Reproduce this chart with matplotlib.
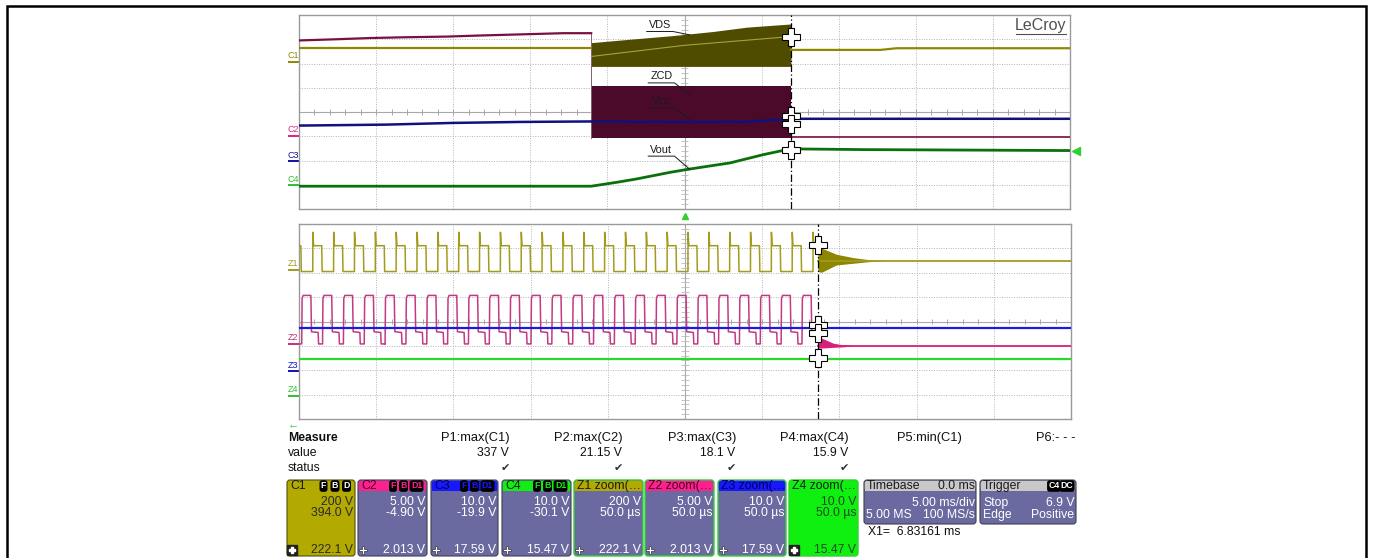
import matplotlib.pyplot as plt
import numpy as np
from matplotlib.patches import FancyBboxPatch, Rectangle

plt.rcParams['font.family'] = ['Liberation Sans', 'DejaVu Sans']

W, H = 1373, 558

# ---------------- upper window (5 ms/div), time and level in divisions ----------------
c1_pre_t = [0.0, 3.79]
c1_pre_v = [2.63, 2.63]
vds_t = [3.79, 4.29, 4.81, 4.94, 5.37, 5.81, 6.38]
vds_top = [2.86, 3.00, 3.14, 3.18, 3.32, 3.50, 3.63]
vds_bot = [1.88, 1.88, 1.88, 1.88, 1.88, 1.88, 1.88]
vds_mid_t = [3.79, 5.00, 6.38]
vds_mid_v = [2.29, 2.75, 3.11]
c1_post_t = [6.38, 7.54, 7.75, 10.0]
c1_post_v = [2.56, 2.56, 2.63, 2.63]

c2_pre_t = [0.0, 0.49, 0.92, 1.35, 1.92, 2.30, 3.43, 3.79]
c2_pre_v = [2.95, 3.00, 3.05, 3.08, 3.11, 3.15, 3.25, 3.25]
zcd_t = [3.79, 6.38]
zcd_top = [1.08, 1.08]
zcd_bot = [-1.07, -1.07]
c2_post_t = [6.38, 10.0]
c2_post_v = [-1.03, -1.03]

c3_t = [0.0, 1.14, 2.00, 2.87, 3.77, 5.07, 5.81, 6.24, 6.38, 10.0]
c3_v = [-0.56, -0.52, -0.45, -0.41, -0.39, -0.41, -0.40, -0.32, -0.28, -0.28]

c4_t = [0.0, 3.79, 4.12, 4.38, 4.81, 5.03, 5.59, 6.02, 6.33, 6.38, 7.30, 10.0]
c4_v = [-3.06, -3.06, -2.90, -2.76, -2.49, -2.37, -2.10, -1.76, -1.55, -1.52, -1.55, -1.59]

upper_cursor = 6.38
upper_cross_v = [3.11, -0.15, -0.50, -1.55]

# ---------------- lower window (zoom, 50 us/div) ----------------
z_period = 0.270
z_first = 0.035
z_cycles = 25
z1_phase = [0.0, 0.53, 0.535, 0.57, 0.96, 0.98, 1.0]
z1_level = [2.05, 2.05, 3.66, 3.11, 3.11, 2.05, 2.05]
z2_phase = [0.0, 0.02, 0.07, 0.44, 0.47, 0.79, 0.81, 1.0]
z2_level = [-0.92, 0.95, 1.07, 1.07, -0.42, -0.45, -0.92, -0.92]

z1_ring_t = [6.72, 6.77, 6.96, 7.18, 7.40, 7.55]
z1_ring_hi = [3.05, 3.01, 2.76, 2.62, 2.53, 2.51]
z1_ring_lo = [2.05, 2.02, 2.32, 2.39, 2.46, 2.49]
z1_settle = 2.50
z2_ring_t = [6.72, 6.77, 6.92, 7.05, 7.15]
z2_ring_hi = [-0.45, -0.68, -0.89, -0.96, -0.99]
z2_ring_lo = [-1.09, -1.09, -1.06, -1.04, -1.01]
z2_settle = -1.00
z3_level = -0.27
z4_level = -1.53

lower_cursor = 6.72
lower_cross_v = [3.14, -0.14, -0.48, -1.48]

# ---------------- readouts ----------------
meas_names = ['P1:max(C1)', 'P2:max(C2)', 'P3:max(C3)', 'P4:max(C4)', 'P5:min(C1)', 'P6:- - -']
meas_values = ['337 V', '21.15 V', '18.1 V', '15.9 V', '', '']
meas_ok = [True, True, True, True, False, False]

box_names = ['C1', 'C2', 'C3', 'C4', 'Z1 zoom(…', 'Z2 zoom(…', 'Z3 zoom(…', 'Z4 zoom(…']
box_scale = ['200 V', '5.00 V', '10.0 V', '10.0 V', '200 V', '5.00 V', '10.0 V', '10.0 V']
box_second = ['394.0 V', '-4.90 V', '-19.9 V', '-30.1 V', '50.0 µs', '50.0 µs', '50.0 µs', '50.0 µs']
box_cursor = ['222.1 V', '2.013 V', '17.59 V', '15.47 V', '222.1 V', '2.013 V', '17.59 V', '15.47 V']

# colours
olive = '#8c8800'
olive_band = '#4f4c00'
maroon = '#7a1040'
maroon_band = '#4c0a2a'
navy = '#10107e'
dkgreen = '#0b700b'
z1_col = '#a29c1e'
z2_col = '#c23a82'
z3_col = '#1a1ae6'
z4_col = '#2ada2a'
purple = '#6b6aa0'
grid_col = '#b4b4b4'
FS = 8.8

fig = plt.figure(figsize=(W / 100, H / 100), dpi=100)
ov = fig.add_axes([0, 0, 1, 1])
ov.set_xlim(0, W)
ov.set_ylim(H, 0)
ov.axis('off')

# outer frame
ov.plot([7, 7, 1366, 1366], [H + 5, 6, 6, H + 5], color='black', lw=1.8, solid_joinstyle='miter')


def panel(x0, y0, x1, y1):
    ax = fig.add_axes([x0 / W, 1 - y1 / H, (x1 - x0) / W, (y1 - y0) / H])
    ax.set_xlim(0, 10)
    ax.set_ylim(-4, 4)
    ax.set_xticks([])
    ax.set_yticks([])
    for s in ax.spines.values():
        s.set_color('#9a9a9a')
        s.set_linewidth(1.0)
    for x in range(1, 10):
        if x == 5:
            ax.axvline(x, color='#a8a8a8', lw=0.8, zorder=1)
        else:
            ax.axvline(x, color=grid_col, lw=0.7, ls=(0, (1, 1.5)), zorder=1)
    for y in range(-3, 4):
        if y == 0:
            ax.axhline(y, color='#a8a8a8', lw=0.8, zorder=1)
        else:
            ax.axhline(y, color=grid_col, lw=0.7, ls=(0, (1, 1.5)), zorder=1)
    # small ticks along the centre lines
    tx = np.arange(0.2, 10, 0.2)
    ax.vlines(tx, -0.12, 0.12, color='#a8a8a8', lw=0.7, zorder=1)
    ty = np.arange(-3.8, 4, 0.2)
    ax.hlines(ty, 4.95, 5.05, color='#b8b8b8', lw=0.6, zorder=1)
    return ax


def crosses(ax, x, vs):
    ax.plot([x] * len(vs), vs, ls='none', marker='P', ms=13, mfc='white',
            mec='black', mew=0.8, zorder=10)


# ---------------- upper window ----------------
top = panel(299, 15, 1070, 209)
top.fill_between(vds_t, vds_bot, vds_top, color=olive_band, lw=0, zorder=3)
top.plot(vds_mid_t, vds_mid_v, color='#a8a040', lw=0.8, zorder=4)
top.fill_between(zcd_t, zcd_bot, zcd_top, color=maroon_band, lw=0, zorder=3)
top.plot([zcd_t[0], zcd_t[0]], [c2_pre_v[-1], zcd_bot[0]], color='#806070', lw=0.7, zorder=3)
top.plot(c1_pre_t, c1_pre_v, color=olive, lw=1.6, zorder=4)
top.plot(c1_post_t, c1_post_v, color=olive, lw=1.6, zorder=4)
top.plot(c2_pre_t, c2_pre_v, color=maroon, lw=1.6, zorder=4)
top.plot(c2_post_t, c2_post_v, color=maroon, lw=1.2, zorder=4)
top.plot(c3_t, c3_v, color=navy, lw=1.8, zorder=5)
top.plot(c4_t, c4_v, color=dkgreen, lw=2.0, zorder=5)
top.axvline(upper_cursor, color='black', lw=0.9, ls=(0, (6, 2, 1, 2)), zorder=8)
crosses(top, upper_cursor, upper_cross_v)

# trace name tags with leader lines
tags = [('VDS', 4.68, 3.59, 5.07, 3.18), ('ZCD', 4.70, 1.47, 5.07, 0.71),
        ('Vcc', 4.70, 0.44, 5.07, -0.32), ('Vout', 4.70, -1.55, 5.07, -2.37)]
for name, tx_, ty_, ex, ey in tags:
    top.text(tx_, ty_, name, fontsize=7.8, color='#1a1a1a', ha='center', va='center', zorder=9)
    top.plot([tx_ - 0.17, tx_ + 0.17, ex], [ty_ - 0.27, ty_ - 0.27, ey], color='#1a1a1a', lw=0.7, zorder=9)
top.text(9.95, 3.55, 'LeCroy', fontsize=11.5, color='#505050', ha='right', va='center', zorder=9)
top.plot([9.3, 9.95], [3.2, 3.2], color='#505050', lw=0.8, zorder=9)

# ---------------- lower window ----------------
low = panel(299, 224, 1071, 419)


def switching(phase, level, t_end):
    t, v = [], []
    for k in range(-1, z_cycles):
        start = z_first + k * z_period
        t.extend(start + np.array(phase) * z_period)
        v.extend(level)
    t = np.array(t)
    v = np.array(v)
    keep = t <= t_end
    return np.append(t[keep], t_end), np.append(v[keep], v[keep][-1])


t1, v1 = switching(z1_phase, z1_level, lower_cursor)
t2, v2 = switching(z2_phase, z2_level, lower_cursor)
low.plot(t2, v2, color=z2_col, lw=1.1, zorder=4)
low.plot([0, 10], [z3_level, z3_level], color=z3_col, lw=1.6, zorder=5)
low.plot([0, 10], [z4_level, z4_level], color=z4_col, lw=1.6, zorder=5)
low.plot(t1, v1, color=z1_col, lw=1.1, zorder=4)
low.fill_between(z1_ring_t, z1_ring_lo, z1_ring_hi, color='#8c8600', lw=0, zorder=4)
low.plot([z1_ring_t[0], 10], [z1_settle, z1_settle], color=z1_col, lw=1.3, zorder=4)
low.fill_between(z2_ring_t, z2_ring_lo, z2_ring_hi, color='#d8207a', lw=0, zorder=4)
low.plot([z2_ring_t[0], 10], [z2_settle, z2_settle], color='#d8207a', lw=1.3, zorder=4)
low.axvline(lower_cursor, color='black', lw=0.9, ls=(0, (6, 2, 1, 2)), zorder=8)
crosses(low, lower_cursor, lower_cross_v)

# ---------------- channel tags at the left edge ----------------
tag_y = [57, 131, 156, 180, 265, 339, 366, 391]
tag_txt = ['C1', 'C2', 'C3', 'C4', 'Z1', 'Z2', 'Z3', 'Z4']
tag_col = [olive, '#e0207e', '#1010a0', '#30c030', z1_col, '#c0307a', '#1010c0', '#30c030']
for y, s, c in zip(tag_y, tag_txt, tag_col):
    ov.text(293, y - 1, s, fontsize=6.5, color=c, ha='center', va='center')
    ov.plot([289, 298], [y + 4.5, y + 4.5], color=c, lw=1.4)

# trigger markers
ov.plot([685], [216], marker='^', ms=5, color='#30d030', ls='none')
ov.plot([1076], [151], marker='<', ms=6, color='#30d030', ls='none')
ov.text(293, 424, '←', fontsize=8, color='#30c030', ha='center', va='center')

# ---------------- measurement table ----------------
ov.text(288, 438, 'Measure', fontsize=FS, fontweight='bold', color='#101010', va='center')
ov.text(288, 453, 'value', fontsize=FS, color='#101010', va='center')
ov.text(288, 468, 'status', fontsize=FS, color='#101010', va='center')
meas_x = [510, 623, 736, 849, 962, 1075]
for x, n, v, ok in zip(meas_x, meas_names, meas_values, meas_ok):
    ov.text(x, 438, n, fontsize=9.3, color='#101010', ha='right', va='center')
    if v:
        ov.text(x - 1, 453, v, fontsize=FS, color='#101010', ha='right', va='center')
    if ok:
        ov.text(x - 5, 468, '✔', fontsize=8, color='#303030', ha='center', va='center')

# ---------------- channel and zoom descriptor boxes ----------------
box_x0 = [287, 358, 431, 502, 574, 645, 718, 789]
box_x1 = [355, 427, 498, 571, 643, 714, 786, 858]
head_col = ['#b2aa00', '#ff2090', '#1818ff', '#10f010', '#b2aa00', '#ff2090', '#1818ff', '#10f010']
body_col = ['#b2aa00', purple, purple, purple, purple, purple, purple, '#10f010']
edge_col = ['#505010', '#404050', '#404050', '#404050', '#30d030', '#30d030', '#30d030', '#30d030']
txt_col = ['#2a2a2a', 'white', 'white', 'white', 'white', 'white', 'white', '#1c4a1c']
by0, by1 = 480, 556


def rbox(x0, y0, x1, y1, fc, ec, lw=0.8, r=3):
    p = FancyBboxPatch((x0, y0), x1 - x0, y1 - y0,
                       boxstyle=f'round,pad=0,rounding_size={r}',
                       fc=fc, ec=ec, lw=lw, zorder=2)
    ov.add_patch(p)
    return p


def icons(xs, labels, y, tc):
    for x, s in zip(xs, labels):
        ov.text(x, y, s, fontsize=6.3, fontweight='bold', color=tc, ha='center', va='center', zorder=5,
                bbox=dict(boxstyle='round,pad=0.15,rounding_size=0.3', fc='black', ec='none'))


for i in range(8):
    x0, x1 = box_x0[i], box_x1[i]
    p = rbox(x0, by0, x1, by1, body_col[i], edge_col[i], lw=1.0 if i >= 4 else 0.8)
    if head_col[i] != body_col[i]:
        ov.add_patch(FancyBboxPatch((x0 + 0.8, by0 + 0.8), x1 - x0 - 1.6, 10,
                                    boxstyle='round,pad=0,rounding_size=2.5',
                                    fc=head_col[i], ec='none', zorder=3))
        ov.add_patch(Rectangle((x0 + 0.8, by0 + 6), x1 - x0 - 1.6, 5, fc=head_col[i], ec='none', zorder=3))
    hc = '#1a1a1a' if i in (0, 3, 4, 7) else ('#4a0020' if i in (1, 5) else '#000050')
    t = ov.text(x0 + 3, by0 + 6, box_names[i], fontsize=FS, color=hc, va='center', zorder=5)
    t.set_clip_path(p)
    if i == 0:
        icons([x1 - 31.5, x1 - 20, x1 - 8.5], ['F', 'B', 'D'], by0 + 6, 'white')
    elif i < 4:
        icons([x1 - 34, x1 - 23.5, x1 - 10.5], ['F', 'B', 'D1'], by0 + 6, head_col[i])
    ov.text(x1 - 2, 501.7, box_scale[i], fontsize=FS, color=txt_col[i], ha='right', va='center', zorder=5)
    ov.text(x1 - 2, 513.3, box_second[i], fontsize=FS, color=txt_col[i], ha='right', va='center', zorder=5)
    ov.text(x1 - 2, 550, box_cursor[i], fontsize=FS, color=txt_col[i], ha='right', va='center', zorder=5)
    if i in (0, 7):
        ov.plot([x0 + 5], [550], marker='s', ms=6.5, color='#202020', ls='none', zorder=5)
        ov.plot([x0 + 5], [550], marker='P', ms=5, mfc='white', mec='white', ls='none', zorder=6)
    else:
        ov.plot([x0 + 5], [550], marker='P', ms=6, mfc='white', mec='#303040', mew=0.5, ls='none', zorder=5)

# timebase and trigger boxes
for x0, x1 in [(864, 976), (980, 1076)]:
    rbox(x0, by0, x1, 524, purple, '#404050')
    ov.add_patch(FancyBboxPatch((x0 + 0.8, by0 + 0.8), x1 - x0 - 1.6, 10,
                                boxstyle='round,pad=0,rounding_size=2.5', fc='#c8c8c8', ec='none', zorder=3))
    ov.add_patch(Rectangle((x0 + 0.8, by0 + 6), x1 - x0 - 1.6, 5, fc='#c8c8c8', ec='none', zorder=3))

ov.text(867, 486, 'Timebase', fontsize=FS, color='#1a1a1a', va='center', zorder=5)
ov.text(975, 486, '0.0 ms', fontsize=FS, color='#1a1a1a', ha='right', va='center', zorder=5)
ov.text(975, 503, '5.00 ms/div', fontsize=FS, color='white', ha='right', va='center', zorder=5)
ov.text(866, 515, '5.00 MS', fontsize=FS, color='white', va='center', zorder=5)
ov.text(975, 515, '100 MS/s', fontsize=FS, color='white', ha='right', va='center', zorder=5)
ov.text(983, 486, 'Trigger', fontsize=FS, color='#1a1a1a', va='center', zorder=5)
icons([1054, 1067], ['C4', 'DC'], 486, 'white')
ov.text(983, 503, 'Stop', fontsize=FS, color='white', va='center', zorder=5)
ov.text(1074, 503, '6.9 V', fontsize=FS, color='white', ha='right', va='center', zorder=5)
ov.text(983, 515, 'Edge', fontsize=FS, color='white', va='center', zorder=5)
ov.text(1074, 515, 'Positive', fontsize=FS, color='white', ha='right', va='center', zorder=5)
ov.text(868, 532, 'X1=  6.83161 ms', fontsize=FS, color='#101010', va='center', zorder=5)

fig.savefig('out.png', dpi=100)
